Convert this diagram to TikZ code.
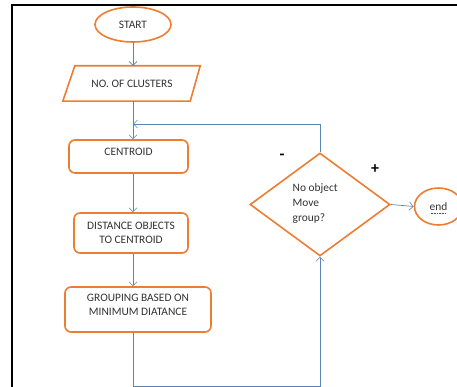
\documentclass[tikz,border=0pt]{standalone}
\usepackage{fontspec}
\setmainfont{Carlito}
\usetikzlibrary{shapes.geometric,arrows.meta,calc}
\definecolor{orng}{RGB}{237,125,49}
\definecolor{arr}{RGB}{92,132,178}
\definecolor{txt}{RGB}{50,50,50}
\begin{document}
\begin{tikzpicture}[x=1pt,y=-1pt,
  every node/.style={font=\fontsize{11.4}{14.5}\selectfont, text=txt, inner sep=0pt},
  obox/.style={draw=orng, line width=1.6pt, rounded corners=6pt, align=center},
  oell/.style={draw=orng, line width=1.6pt, ellipse},
  conn/.style={draw=arr, line width=0.7pt},
  arw/.style={conn, -{Straight Barb[length=4pt,width=8pt,line width=0.6pt]}},
  sign/.style={font=\fontsize{16}{16}\selectfont\bfseries, text=black}
]
\useasboundingbox (0,0) rectangle (457,387);
\begin{scope}
\clip (0,0) rectangle (457,387);
% frame
\draw[line width=2pt] (12,387) -- (12,5) -- (457,5);

% nodes
\node[oell, minimum width=76pt, minimum height=35pt] (start) at (133,24.5) {START};
\node[minimum width=126pt, minimum height=35pt] (clusters) at (132,83.5) {NO. OF CLUSTERS};
\draw[orng, line width=1.6pt, line join=miter]
  ($(clusters.north west)+(6,0)$) -- ($(clusters.north east)+(5,0)$) --
  ($(clusters.south east)+(-5,0)$) -- ($(clusters.south west)+(-6,0)$) -- cycle;
\node[obox, minimum width=119pt, minimum height=33pt, text depth=9pt] (centroid) at (128.5,156.5) {CENTROID};
\node[obox, minimum width=114pt, minimum height=40pt] (distance) at (131,233) {DISTANCE OBJECTS\\TO CENTROID};
\node[obox, minimum width=146pt, minimum height=45pt, text depth=9pt, font=\fontsize{11.4}{13.5}\selectfont] (grouping) at (138,309.5) {GROUPING BASED ON\\MINIMUM DIATANCE};
\node[draw=orng, line width=1.6pt, diamond, minimum width=140pt, minimum height=103pt, aspect=1.36] (decide) at (320,204.5) {};
\node[align=left, anchor=north west, font=\fontsize{11.4}{15}\selectfont] (dtext) at (292.5,183) {No object\\Move\\group?};
\node[oell, minimum width=48pt, minimum height=37pt] (endn) at (438.5,206.5) {end};
\draw[green!55!black, line width=0.7pt, dash pattern=on 0.8pt off 0.8pt] ($(endn.center)+(-8,6.5)$) -- ($(endn.center)+(8,6.5)$);

\node[sign] (minus) at (282,157) {-};
\node[sign] (plus) at (375,169) {+};

% connectors
\coordinate (loopc) at (133,124);
\draw[arw] (start.south) -- (start.south |- clusters.north);
\draw[arw] (start.south |- clusters.south) -- (start.south |- centroid.north);
\draw[arw] (decide.north) |- (loopc);
\draw[arw] (start.south |- centroid.south) -- (start.south |- distance.north);
\draw[arw] (start.south |- distance.south) -- (start.south |- grouping.north);
\coordinate (bot) at (133,386);
\draw[arw] (start.south |- grouping.south) -- (bot) -| (decide.south);
\draw[arw] (decide.east) -- (endn.west);
\end{scope}
\end{tikzpicture}
\end{document}
